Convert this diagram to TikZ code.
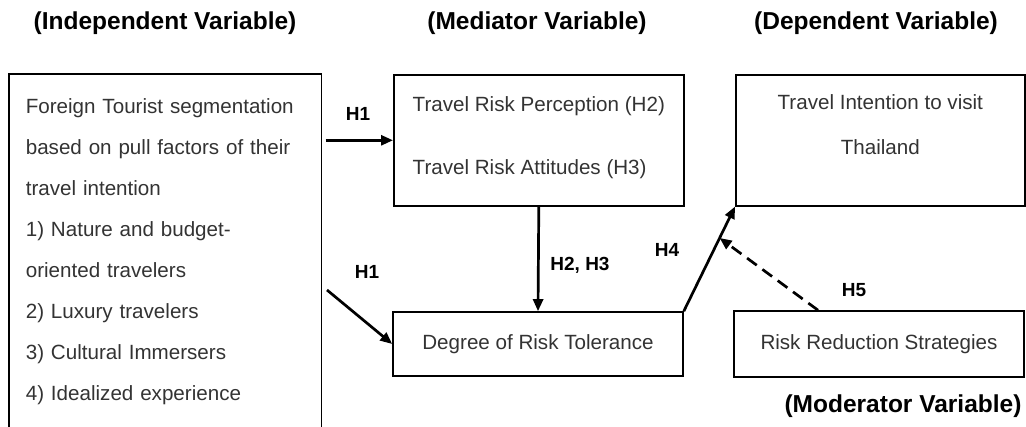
\documentclass[tikz,border=0pt]{standalone}
\usepackage{fontspec}
\setmainfont{Liberation Sans}
\usetikzlibrary{arrows.meta,calc}

\begin{document}
\begin{tikzpicture}[x=1pt,y=-1pt,
  box/.style={draw,line width=1.6pt,inner sep=0pt,text=black!80,font=\fontsize{20.6}{41}\selectfont},
  hyp/.style={font=\bfseries\fontsize{19}{22}\selectfont},
  head/.style={font=\bfseries\fontsize{24.5}{26}\selectfont},
  arr/.style={line width=2.7pt,-{Triangle[length=12pt,width=10pt]}}]
\useasboundingbox (0,0) rectangle (1026,427);
% headings
\node[head] (hiv) at (165,23) {(Independent Variable)};
\node[head] (hmed) at (537,23) {(Mediator Variable)};
\node[head] (hdv) at (876,23) {(Dependent Variable)};
\node[head] (hmod) at (903,406) {(Moderator Variable)};
% boxes
\node[box,draw=none,anchor=north west,text width=279pt,align=left,inner xsep=16pt,inner ysep=24pt] (iv) at (9,74)
  {Foreign Tourist segmentation\\based on pull factors of their\\travel intention\\1) Nature and budget-\\oriented travelers\\2) Luxury travelers\\3) Cultural Immersers\\4) Idealized experience};
\draw[line width=1.6pt] ([yshift=-20pt]iv.south west) |- (iv.north east) -- ([yshift=-20pt]iv.south east);
\node[box,anchor=north west,minimum width=290pt,minimum height=131pt,align=left,text depth=9pt] (med) at (393,74)
  {Travel Risk Perception (H2)\\[22pt]Travel Risk Attitudes (H3)};
\node[box,anchor=north west,minimum width=289pt,minimum height=131pt,align=center,text depth=32pt] (dv) at (735,74)
  {Travel Intention to visit\\[4pt]Thailand};
\node[box,minimum width=290pt,minimum height=64pt] (deg) at (538,344) {Degree of Risk Tolerance};
\node[box,minimum width=290pt,minimum height=66pt] (mod) at (879,344) {Risk Reduction Strategies};
% hypotheses
\draw[arr] ([xshift=4pt]iv.east |- med.west) -- (med.west);
\coordinate (h1s) at (327,290);
\draw[arr] (h1s) -- (deg.west);
\draw[arr] (med.south) -- (deg.north);
\draw[arr] (deg.north east) -- (dv.south west);
\coordinate (h5s) at ([xshift=-61pt]mod.north);
\draw[arr,dash pattern=on 12pt off 7pt] (h5s) -- ($(deg.north east)!0.7!(dv.south west)$);
\node[hyp] (l1a) at (358,114) {H1};
\node[hyp] (l1b) at (367,272) {H1};
\node[hyp] (l23) at (580,265) {H2, H3};
\node[hyp] (l4) at (667,250) {H4};
\node[hyp] (l5) at (854,290) {H5};
\end{tikzpicture}
\end{document}
